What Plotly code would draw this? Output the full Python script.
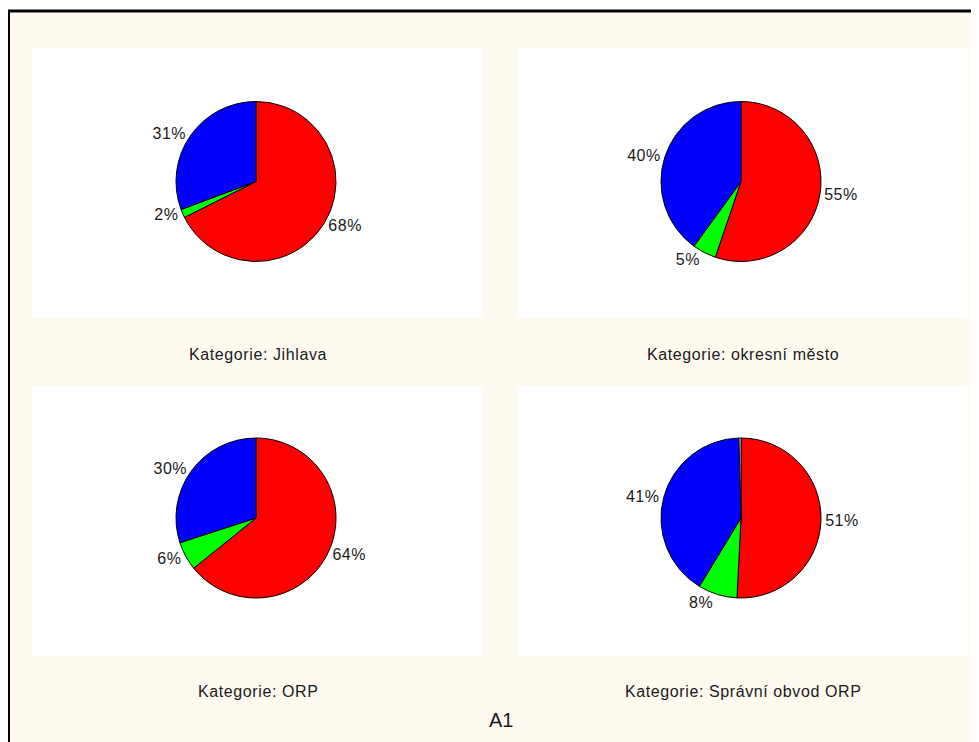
import plotly.graph_objects as go

# The page body adds an 8px margin, so figure pixel = reference pixel - 8
OFF = 8
W, H = 979 - OFF, 742 - OFF

# Data
categories = ["Kategorie: Jihlava", "Kategorie: okresní město", "Kategorie: ORP", "Kategorie: Správní obvod ORP"]
slice_names = ["červená", "zelená", "modrá", "ostatní"]
slice_colors = ["#FF0000", "#00FF00", "#0000FF", "#FFFFFF"]
jihlava = [67.6, 1.7, 30.7, 0.0]
okresni_mesto = [55.2, 4.8, 40.0, 0.0]
orp = [64.2, 5.8, 30.0, 0.0]
spravni_obvod = [50.8, 7.9, 40.9, 0.4]
series = [jihlava, okresni_mesto, orp, spravni_obvod]
title_text = "A1"

# Layout geometry (reference pixels)
panels_x = [(32, 483), (517, 968)]
panels_y = [(48, 318), (386, 656)]
pie_centers = [(256, 181.5), (741, 181.5), (256, 518), (741, 518)]
pie_r = 80
caption_y = [354, 691]

FONT = "Liberation Sans, Arial, sans-serif"
CREAM = "#FFFAF0"
TXT = "#1a1a1a"

def px(x):
    return (x - OFF) / W

def py(y):
    return 1 - (y - OFF) / H

def spaced(s, ls=0.6):
    return '<span style="letter-spacing:%spx">%s</span>' % (ls, s)

fig = go.Figure()

for i, vals in enumerate(series):
    cx, cy = pie_centers[i]
    names = [n for n, v in zip(slice_names, vals) if v > 0]
    colors = [c for c, v in zip(slice_colors, vals) if v > 0]
    v2 = [v for v in vals if v > 0]
    total = sum(v2)
    pos = ["outside" if (v / total) >= 0.01 else "none" for v in v2]
    fig.add_trace(go.Pie(
        labels=names,
        values=v2,
        sort=False,
        direction="clockwise",
        rotation=0,
        marker=dict(colors=colors, line=dict(color="#000000", width=1)),
        textinfo="percent",
        texttemplate=spaced("%{percent:.0%}", 0.5),
        textposition=pos,
        textfont=dict(family=FONT, size=16, color=TXT),
        domain=dict(x=[px(cx - pie_r), px(cx + pie_r)], y=[py(cy + pie_r), py(cy - pie_r)]),
        showlegend=False,
        hoverinfo="label+percent",
    ))

shapes = [
    dict(type="rect", xref="paper", yref="paper", x0=px(8), x1=1, y0=0, y1=py(11),
         fillcolor=CREAM, line=dict(width=0), layer="below"),
]
for (x0, x1) in panels_x:
    for (y0, y1) in panels_y:
        shapes.append(dict(type="rect", xref="paper", yref="paper", x0=px(x0), x1=px(x1),
                           y0=py(y1), y1=py(y0), fillcolor="#FFFFFF", line=dict(width=0), layer="below"))
shapes.append(dict(type="line", xref="paper", yref="paper", x0=px(8), x1=1, y0=py(11), y1=py(11),
                   line=dict(color="#000000", width=3)))
shapes.append(dict(type="line", xref="paper", yref="paper", x0=px(8.5), x1=px(8.5), y0=0, y1=py(11),
                   line=dict(color="#000000", width=3)))

annotations = []
for i, cat in enumerate(categories):
    col, row = i % 2, i // 2
    x0, x1 = panels_x[col]
    annotations.append(dict(text=spaced(cat), x=px((x0 + x1) / 2), y=py(caption_y[row]), xref="paper", yref="paper",
                            showarrow=False, xanchor="center", yanchor="middle",
                            font=dict(family=FONT, size=16, color=TXT)))
annotations.append(dict(text=title_text, x=px(501), y=py(720), xref="paper", yref="paper",
                        showarrow=False, xanchor="center", yanchor="middle",
                        font=dict(family=FONT, size=20, color=TXT)))

fig.update_layout(
    width=W, height=H,
    margin=dict(l=0, r=0, t=0, b=0),
    paper_bgcolor="#FFFFFF",
    plot_bgcolor="#FFFFFF",
    shapes=shapes,
    annotations=annotations,
)

fig.write_html("out.html")
